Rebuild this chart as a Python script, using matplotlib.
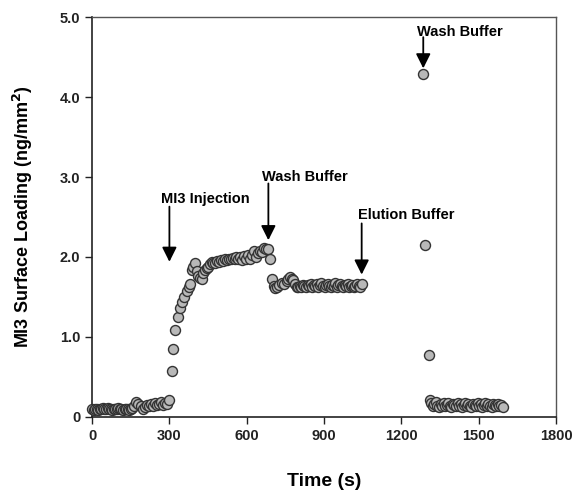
import matplotlib
matplotlib.use('Agg')
import matplotlib.pyplot as plt
import numpy as np

plt.rcParams['font.family'] = ['Liberation Sans', 'DejaVu Sans']

# MI3 surface loading vs time
baseline_t = [0, 6, 12, 18, 24, 30, 36, 42, 48, 54, 60, 66, 72, 78, 84, 90, 96,
              102, 108, 114, 120, 126, 132, 138, 144, 150, 156]
baseline_y = [0.10, 0.09, 0.10, 0.10, 0.09, 0.10, 0.10, 0.11, 0.10, 0.10, 0.11, 0.10,
              0.10, 0.09, 0.10, 0.10, 0.10, 0.11, 0.10, 0.10, 0.09, 0.10, 0.10, 0.10,
              0.09, 0.10, 0.11]

injection_t = [164, 172, 180, 188, 196, 204, 212, 220, 228, 236, 244, 252, 260, 268,
               276, 284, 292, 300, 309, 313, 322, 335, 341, 348, 357, 367, 375, 381,
               387, 393, 400, 406, 412, 418, 425, 431, 438, 444, 450, 457, 464, 470,
               477, 485, 492, 500, 508, 515, 523, 530, 538, 545, 553, 560, 568, 575,
               583, 590, 598, 605, 613, 620, 628, 636, 644, 652, 660, 668, 676, 684]
injection_y = [0.13, 0.19, 0.16, 0.13, 0.10, 0.12, 0.15, 0.13, 0.16, 0.14, 0.17, 0.15,
               0.16, 0.18, 0.15, 0.17, 0.16, 0.21, 0.57, 0.85, 1.09, 1.25, 1.36, 1.44,
               1.50, 1.57, 1.62, 1.66, 1.84, 1.88, 1.92, 1.82, 1.76, 1.74, 1.73, 1.80,
               1.84, 1.86, 1.88, 1.91, 1.94, 1.92, 1.93, 1.95, 1.94, 1.96, 1.95, 1.97,
               1.96, 1.98, 1.97, 1.99, 1.98, 2.00, 1.97, 2.00, 1.96, 2.01, 1.97, 2.02,
               1.98, 2.03, 2.07, 2.00, 2.05, 2.08, 2.06, 2.11, 2.10, 2.10]

wash_t = [690, 697, 704, 710, 718, 727, 736, 745, 755, 762, 768, 775, 781, 788, 794,
          800, 806, 812, 818, 824, 830, 836, 842, 848, 854, 860, 866, 872, 878, 884,
          890, 896, 902, 908, 914, 920, 926, 932, 938, 944, 950, 956, 962, 968, 974,
          980, 986, 992, 998, 1004, 1010, 1016, 1022, 1028, 1034, 1040, 1048]
wash_y = [1.97, 1.73, 1.64, 1.61, 1.62, 1.65, 1.67, 1.66, 1.70, 1.72, 1.75, 1.73,
          1.71, 1.66, 1.63, 1.62, 1.64, 1.63, 1.65, 1.64, 1.63, 1.65, 1.64, 1.66,
          1.63, 1.65, 1.64, 1.66, 1.63, 1.65, 1.67, 1.64, 1.62, 1.65, 1.66, 1.64,
          1.63, 1.65, 1.64, 1.67, 1.63, 1.65, 1.66, 1.64, 1.62, 1.65, 1.64, 1.66,
          1.63, 1.64, 1.65, 1.63, 1.64, 1.66, 1.64, 1.63, 1.66]

elution_t = [1285, 1292, 1307, 1310, 1316, 1322, 1328, 1334, 1340, 1346, 1352, 1358,
             1364, 1370, 1376, 1382, 1388, 1394, 1400, 1406, 1412, 1418, 1424, 1430,
             1436, 1442, 1448, 1454, 1460, 1466, 1472, 1478, 1484, 1490, 1496, 1502,
             1508, 1514, 1520, 1526, 1532, 1538, 1544, 1550, 1556, 1562, 1568, 1574,
             1580, 1586, 1595]
elution_y = [4.29, 2.15, 0.78, 0.21, 0.17, 0.13, 0.16, 0.18, 0.14, 0.12, 0.16, 0.14,
             0.17, 0.13, 0.15, 0.17, 0.14, 0.12, 0.16, 0.15, 0.13, 0.17, 0.14, 0.16,
             0.12, 0.15, 0.17, 0.13, 0.16, 0.14, 0.12, 0.16, 0.15, 0.13, 0.17, 0.14,
             0.16, 0.12, 0.15, 0.17, 0.13, 0.16, 0.14, 0.12, 0.16, 0.15, 0.13, 0.16,
             0.14, 0.15, 0.12]

time_s = baseline_t + injection_t + wash_t + elution_t
loading = baseline_y + injection_y + wash_y + elution_y

# event annotations: label, text position, arrow start, arrow tip
events = ['MI3 Injection', 'Wash Buffer', 'Elution Buffer', 'Wash Buffer']
text_xy = [(268, 2.73), (660, 3.00), (1032, 2.52), (1262, 4.81)]
arrow_from = [(300, 2.63), (684, 2.92), (1046, 2.42), (1285, 4.75)]
arrow_to = [(300, 1.94), (684, 2.21), (1046, 1.78), (1285, 4.36)]

fig = plt.figure(figsize=(5.72, 4.91), dpi=100)
ax = fig.add_axes([0.161, 0.151, 0.811, 0.814])

ax.plot(time_s, loading, 'o', markersize=7.2, markerfacecolor='#b8b8b8',
        markeredgecolor='#333333', markeredgewidth=1.0, clip_on=False, zorder=3)

for lab, txy, a0, a1 in zip(events, text_xy, arrow_from, arrow_to):
    ax.text(txy[0], txy[1], lab, fontsize=10.5, fontweight='bold', ha='left', va='center')
    ax.annotate('', xy=a1, xytext=a0,
                arrowprops=dict(arrowstyle='-|>', color='black', lw=1.3,
                                mutation_scale=22, shrinkA=0, shrinkB=0))

ax.set_xlim(0, 1800)
ax.set_ylim(0, 5.0)
ax.set_xticks([0, 300, 600, 900, 1200, 1500, 1800])
ax.set_yticks([0, 1, 2, 3, 4, 5])
ax.set_yticklabels(['0', '1.0', '2.0', '3.0', '4.0', '5.0'])
ax.tick_params(direction='out', length=5, width=1, labelsize=10.5, colors='#222222')
for lbl in ax.get_xticklabels() + ax.get_yticklabels():
    lbl.set_fontweight('bold')

for side in ['left', 'bottom']:
    ax.spines[side].set_linewidth(1.2)
    ax.spines[side].set_color('#222222')
for side in ['top', 'right']:
    ax.spines[side].set_linewidth(1.0)
    ax.spines[side].set_color('#555555')

ax.set_xlabel('Time (s)', fontsize=14, fontweight='bold', labelpad=22)
ax.set_ylabel('MI3 Surface Loading (ng/mm$^\\mathbf{2}$)', fontsize=13,
              fontweight='bold', labelpad=18)

fig.savefig('out.png', dpi=100)
